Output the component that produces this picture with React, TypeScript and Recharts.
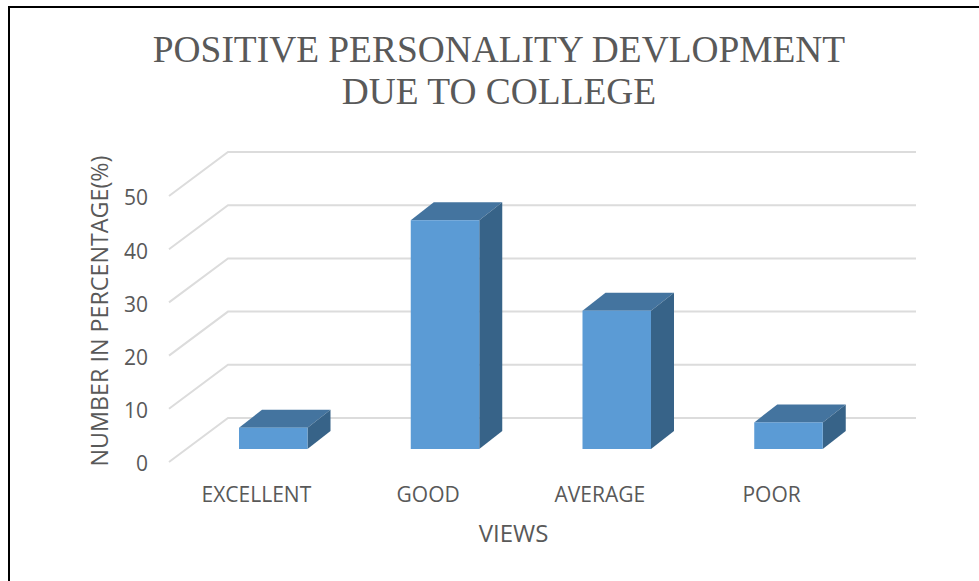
import React from 'react';
import { BarChart, Bar, XAxis, YAxis, CartesianGrid } from 'recharts';

const categories = ['EXCELLENT', 'GOOD', 'AVERAGE', 'POOR'];
const percentages = [4, 43, 26, 5];
const yTicks = [0, 10, 20, 30, 40, 50];
const titleLines = ['POSITIVE PERSONALITY DEVLOPMENT', 'DUE TO COLLEGE'];

const data = categories.map((name, i) => ({ name, value: percentages[i] }));

const FONT = '"Open Sans", sans-serif';
const TEXT = '#595959';

// fake 3D: how far the bar's back face sits from its front face
const DEPTH_X = 23;
const DEPTH_Y = 18;

const Bar3D = (props: any) => {
  const { x, y, width, height } = props;
  const r = x + width;
  const b = y + height;
  return (
    <g>
      <polygon
        points={`${x},${y} ${x + DEPTH_X},${y - DEPTH_Y} ${r + DEPTH_X},${y - DEPTH_Y} ${r},${y}`}
        fill="#44749F"
      />
      <polygon
        points={`${r},${y} ${r + DEPTH_X},${y - DEPTH_Y} ${r + DEPTH_X},${b - DEPTH_Y} ${r},${b}`}
        fill="#376388"
      />
      <rect x={x} y={y} width={width} height={height} fill="#5B9BD5" />
    </g>
  );
};

// gridline runs along the side wall, then along the back wall
const GridLine3D = (props: any) => {
  const { x1, x2, y1 } = props;
  return (
    <polyline
      points={`${x1 - 18},${y1 + 13} ${x1 + 41},${y1 - 31} ${x2 + 42},${y1 - 31}`}
      fill="none"
      stroke="#DCDCDC"
      strokeWidth={2}
    />
  );
};

export default function App() {
  return (
    <div style={{ position: 'absolute', left: 0, top: 0, width: 979, height: 581, overflow: 'hidden', background: '#fff' }}>
      <div
        style={{
          position: 'absolute',
          left: 8,
          top: 6,
          width: 971,
          height: 575,
          borderLeft: '2px solid #000',
          borderTop: '2px solid #000',
          boxSizing: 'border-box',
        }}
      />
      <BarChart
        width={979}
        height={581}
        data={data}
        margin={{ top: 183, right: 105, bottom: 102, left: 127 }}
        barSize={68.5}
      >
        <CartesianGrid vertical={false} horizontal={(p: any) => <GridLine3D key={p.key} {...p} />} />
        <XAxis
          dataKey="name"
          height={30}
          axisLine={false}
          tickLine={false}
          tickSize={0}
          tickMargin={38}
          interval={0}
          tick={{ fill: TEXT, fontSize: 21, fontFamily: FONT, dx: -16.5 }}
          label={{ value: 'VIEWS', position: 'center', dx: -17, dy: 69, fill: TEXT, fontSize: 24, fontFamily: FONT }}
        />
        <YAxis
          width={60}
          domain={[0, 50]}
          ticks={yTicks}
          axisLine={false}
          tickLine={false}
          tickSize={0}
          tickMargin={39}
          tick={{ fill: TEXT, fontSize: 21, fontFamily: FONT, dy: 15 }}
          label={{
            value: 'NUMBER IN PERCENTAGE(%)',
            angle: -90,
            position: 'center',
            dx: -57,
            dy: -5,
            fill: TEXT,
            fontSize: 23.3,
            fontFamily: FONT,
          }}
        />
        <Bar dataKey="value" shape={Bar3D} isAnimationActive={false} />
      </BarChart>
      <div
        style={{
          position: 'absolute',
          left: 0,
          top: 29,
          width: 998,
          textAlign: 'center',
          fontFamily: '"Liberation Serif", serif',
          fontSize: 37.4,
          lineHeight: '42px',
          color: TEXT,
        }}
      >
        {titleLines.map((l) => (
          <div key={l}>{l}</div>
        ))}
      </div>
    </div>
  );
}
